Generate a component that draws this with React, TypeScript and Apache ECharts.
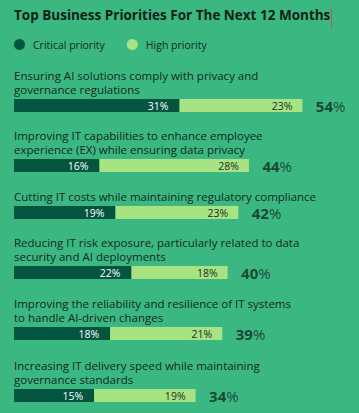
import React, { useEffect, useRef } from "react";
import * as echarts from "echarts";

const titleText = "Top Business Priorities For The Next 12 Months";
const seriesNames = ["Critical priority", "High priority"];
const categories = [
  "Ensuring AI solutions comply with privacy and\ngovernance regulations",
  "Improving IT capabilities to enhance employee\nexperience (EX) while ensuring data privacy",
  "Cutting IT costs while maintaining regulatory compliance",
  "Reducing IT risk exposure, particularly related to data\nsecurity and AI deployments",
  "Improving the reliability and resilience of IT systems\nto handle AI-driven changes",
  "Increasing IT delivery speed while maintaining\ngovernance standards",
];
const critical = [31, 16, 19, 22, 18, 15];
const high = [23, 28, 23, 18, 21, 19];
const totals = [54, 44, 42, 40, 39, 34];

const rowTops = [99, 159, 206, 266, 327, 389];
const BG = "#3bb882";
const DARK = "#03553f";
const LIGHT = "#a7e283";
const TEXT = "#13281f";
const FONT = "'Open Sans', sans-serif";

export default function App() {
  const ref = useRef<HTMLDivElement>(null);
  useEffect(() => {
    if (!ref.current) return;
    const chart = echarts.init(ref.current, null, { renderer: "svg" });
    const grids: any[] = [];
    const xAxes: any[] = [];
    const yAxes: any[] = [];
    const series: any[] = [];
    const graphics: any[] = [];
    categories.forEach((cat, i) => {
      grids.push({ left: 14, top: rowTops[i], width: 320.4, height: 13 });
      xAxes.push({ type: "value", gridIndex: i, min: 0, max: 60, show: false });
      yAxes.push({ type: "category", gridIndex: i, data: [cat], show: false });
      series.push({
        type: "bar",
        name: seriesNames[0],
        xAxisIndex: i,
        yAxisIndex: i,
        stack: "s" + i,
        barWidth: 13,
        itemStyle: { color: DARK },
        label: {
          show: true,
          position: "insideRight",
          distance: 11,
          formatter: "{c}%",
          color: "#ffffff",
          fontSize: 10.5,
          fontFamily: FONT,
        },
        data: [critical[i]],
      });
      series.push({
        type: "bar",
        name: seriesNames[1],
        xAxisIndex: i,
        yAxisIndex: i,
        stack: "s" + i,
        barWidth: 13,
        itemStyle: { color: LIGHT },
        label: {
          show: true,
          position: "insideRight",
          distance: 10,
          formatter: "{c}%",
          color: "#1e2e22",
          fontSize: 10.5,
          fontFamily: FONT,
        },
        data: [high[i]],
      });
      series.push({
        type: "scatter",
        xAxisIndex: i,
        yAxisIndex: i,
        symbolSize: 1,
        itemStyle: { color: "rgba(0,0,0,0)" },
        label: {
          show: true,
          position: "right",
          distance: 13,
          formatter: (p: any) => `{n|${p.value[0]}}{p|%}`,
          rich: {
            n: { fontSize: 15, fontWeight: "bold", color: TEXT, fontFamily: FONT },
            p: { fontSize: 15, fontWeight: 500, color: TEXT, fontFamily: FONT },
          },
        },
        data: [[totals[i], cat]],
      });
      graphics.push({
        type: "text",
        left: 14,
        top: rowTops[i] - 2 - (cat.split("\n").length * 14.5),
        style: {
          text: cat,
          fill: TEXT,
          fontSize: 11.5,
          lineHeight: 14.5,
          fontFamily: FONT,
        },
      });
    });
    graphics.push({
      type: "line",
      shape: { x1: 331.5, y1: 7, x2: 331.5, y2: 28.5 },
      style: { stroke: "#c2507a", lineWidth: 1 },
    });
    chart.setOption({
      animation: false,
      backgroundColor: BG,
      title: {
        text: titleText,
        left: 14,
        top: 8,
        padding: 0,
        textStyle: { fontSize: 13.5, fontWeight: "bold", color: "#0f1f18", fontFamily: FONT },
      },
      legend: {
        data: seriesNames,
        left: 14,
        top: 39,
        padding: 0,
        icon: "circle",
        itemWidth: 11,
        itemHeight: 11,
        itemGap: 22,
        textStyle: { fontSize: 10.5, color: TEXT, fontFamily: FONT, padding: [0, 0, 0, 3] },
      },
      color: [DARK, LIGHT],
      grid: grids,
      xAxis: xAxes,
      yAxis: yAxes,
      series,
      graphic: graphics,
    });
    return () => chart.dispose();
  }, []);
  return (
    <div
      ref={ref}
      style={{ position: "fixed", left: 0, top: 0, width: 359, height: 413 }}
    />
  );
}
